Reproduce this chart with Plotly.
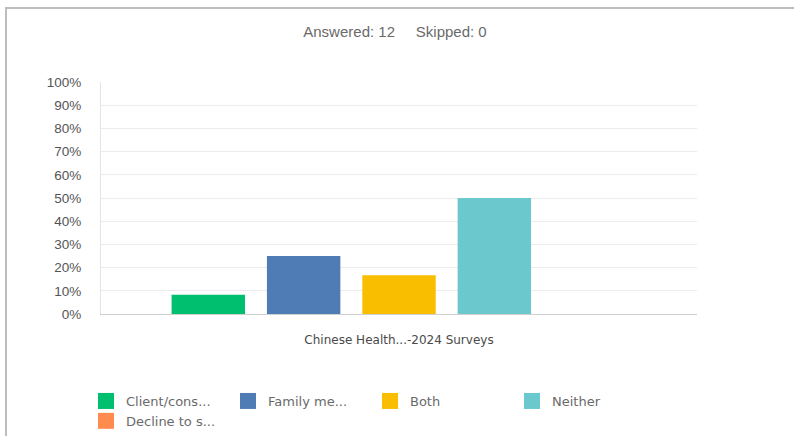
import plotly.graph_objects as go

# Survey responses (share of 12 answers)
category = ["Chinese Health...-2024 Surveys"]
answers = ["Client/cons...", "Family me...", "Both", "Neither", "Decline to s..."]
percent = [8.33, 25.0, 16.67, 50.0, 0.0]
colors = ["#00BF6F", "#507CB6", "#F9BE00", "#6BC8CD", "#FF8B4F"]
y_ticks = list(range(0, 101, 10))
y_tick_labels = [f"{v}%" for v in y_ticks]

W, H = 794, 436
L, R, T, B = 101, 97, 82, 122
pw, ph = W - L - R, H - T - B

fig = go.Figure()
for name, val, col in zip(answers, percent, colors):
    fig.add_trace(go.Bar(x=category, y=[val], name=name, marker_color=col,
                         marker_line_width=0, showlegend=False,
                         hovertemplate="%{y:.0f}%<extra>" + name + "</extra>"))
# legend swatches
for name, col in zip(answers, colors):
    fig.add_trace(go.Scatter(x=[None], y=[None], mode="markers", name=name,
                             marker=dict(symbol="square", size=16, color=col)))

# card border
fig.add_shape(type="rect", xref="paper", yref="paper",
              x0=(6 - L) / pw, x1=(W + 60 - L) / pw,
              y0=-(H + 60 - T - ph) / ph, y1=1 + (T - 8) / ph,
              line=dict(color="#BDBDBD", width=2), fillcolor="rgba(0,0,0,0)", layer="below")

fig.update_layout(
    width=W, height=H,
    margin=dict(l=L, r=R, t=T, b=B, autoexpand=False),
    paper_bgcolor="white", plot_bgcolor="white",
    barmode="group", bargap=0.2, bargroupgap=0.23,
    title=dict(text="Answered: 12&nbsp;&nbsp;&nbsp;&nbsp;&nbsp;Skipped: 0",
               x=395 / W, xanchor="center", y=1 - 32 / H, yanchor="middle",
               font=dict(family="Liberation Sans, Arial", size=15, color="#6A6A6A")),
    font=dict(family="Liberation Sans, Arial", color="#555555"),
    xaxis=dict(showgrid=False, showline=True, linecolor="#CFCFCF", linewidth=1,
               ticks="", ticklabelstandoff=15,
               tickfont=dict(family="DejaVu Sans", size=12, color="#4A4A4A")),
    yaxis=dict(range=[0, 100], tickvals=y_ticks, ticktext=y_tick_labels,
               showgrid=True, gridcolor="#ECECEC", gridwidth=1,
               showline=True, linecolor="#E3E3E3", linewidth=1,
               zeroline=False, ticks="", ticklabelstandoff=16,
               tickfont=dict(family="Liberation Sans, Arial", size=13.5, color="#555555")),
    legend=dict(orientation="h", x=(86 - L) / pw, xanchor="left",
                y=-(386 - T - ph) / ph, yanchor="top",
                entrywidth=97, entrywidthmode="pixels", tracegroupgap=0,
                font=dict(family="DejaVu Sans", size=13, color="#6A6A6A"),
                bgcolor="rgba(0,0,0,0)"),
)

fig.write_html("out.html")
